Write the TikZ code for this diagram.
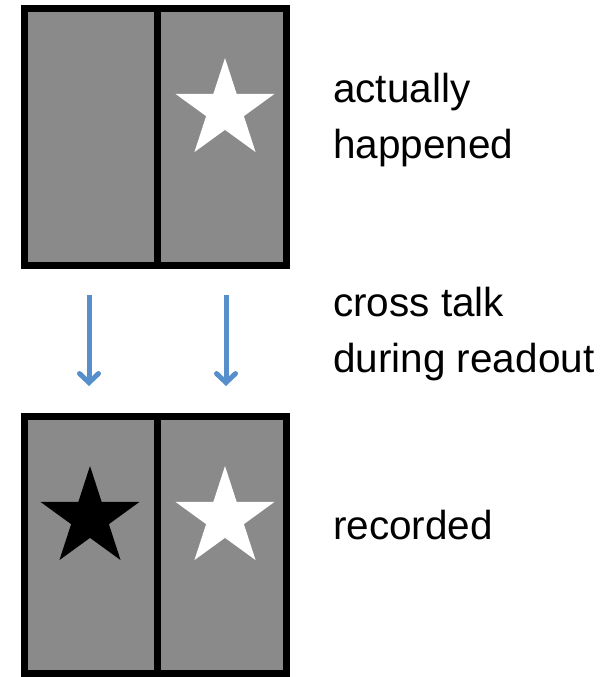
\documentclass[tikz,border=0pt]{standalone}
\usepackage{fontspec}
\setmainfont{Liberation Sans}
\usetikzlibrary{shapes.geometric,arrows.meta}
\definecolor{cellgray}{RGB}{138,138,138}
\definecolor{arrowblue}{RGB}{86,143,204}
\tikzset{
  box/.style={draw=black, fill=cellgray, line width=7pt, minimum width=262pt, minimum height=257pt, inner sep=0pt},
  divider/.style={line width=7pt},
  starshape/.style={star, star points=5, star point ratio=2.618, minimum size=104pt, inner sep=0pt},
  readarrow/.style={draw=arrowblue, line width=5pt, -{Straight Barb[length=9pt,width=19pt,line cap=round]}},
  label/.style={anchor=base west, inner sep=0pt, font=\fontsize{40.5pt}{56pt}\selectfont, align=left}
}
\begin{document}
\begin{tikzpicture}[x=1pt,y=-1pt]
\useasboundingbox (0,0) rectangle (610,677);
% boxes (centerline coordinates)
\node[box] (top) at (155.5,137) {};
\node[box] (bot) at (155.5,545) {};
\draw[divider] (157,8.5) coordinate (td1) -- (157,265.5) coordinate (td2);
\draw[divider] (157,416.5) coordinate (bd1) -- (157,673.5) coordinate (bd2);
% stars
\node[starshape, fill=white] (s1) at (225,110) {};
\node[starshape, fill=black] (s2) at (90,518) {};
\node[starshape, fill=white] (s3) at (225,518) {};
% arrows
\coordinate (a1s) at (89,295);
\coordinate (a1e) at (89,386);
\coordinate (a2s) at (226,295);
\coordinate (a2e) at (226,386);
\draw[readarrow] (a1s) -- (a1e);
\draw[readarrow] (a2s) -- (a2e);
% labels (base = last line baseline)
\node[label] (l1) at (333,158) {actually\\happened};
\node[label] (l2) at (333,372) {cross talk\\during readout};
\node[label] (l3) at (333,539) {recorded};
\end{tikzpicture}
\end{document}
